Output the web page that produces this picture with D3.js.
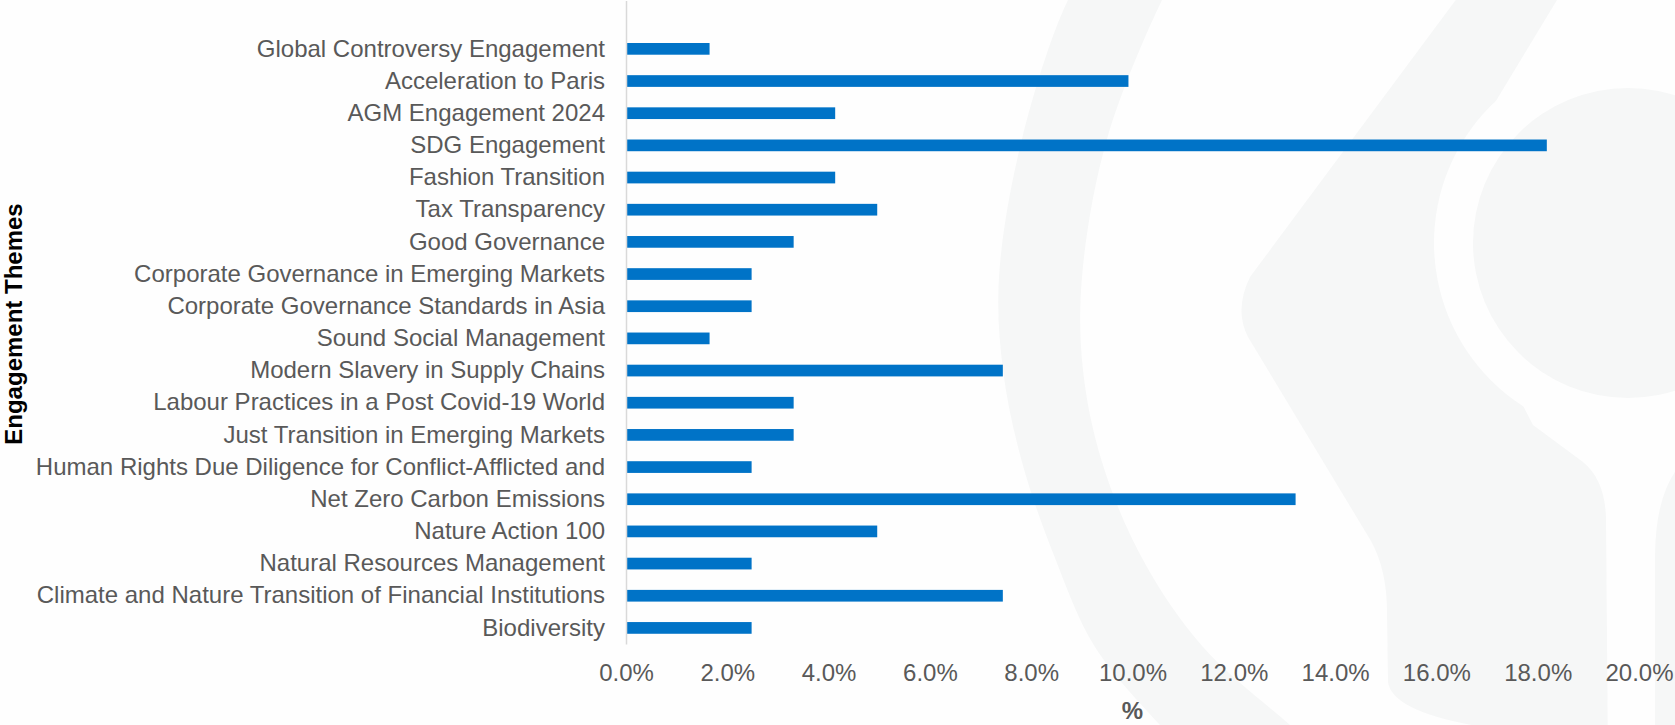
<!DOCTYPE html>
<html>
<head>
<meta charset="utf-8">
<script src="https://cdn.jsdelivr.net/npm/d3@7"></script>
<style>
  html, body { margin: 0; padding: 0; background: #fefefe; }
  svg { display: block; }
</style>
</head>
<body>
<div id="chart"></div>
<script>
// ---- data ----
const categories = [
  "Global Controversy Engagement",
  "Acceleration to Paris",
  "AGM Engagement 2024",
  "SDG Engagement",
  "Fashion Transition",
  "Tax Transparency",
  "Good Governance",
  "Corporate Governance in Emerging Markets",
  "Corporate Governance Standards in Asia",
  "Sound Social Management",
  "Modern Slavery in Supply Chains",
  "Labour Practices in a Post Covid-19 World",
  "Just Transition in Emerging Markets",
  "Human Rights Due Diligence for Conflict-Afflicted and",
  "Net Zero Carbon Emissions",
  "Nature Action 100",
  "Natural Resources Management",
  "Climate and Nature Transition of Financial Institutions",
  "Biodiversity"
];
const values = [1.65, 9.92, 4.13, 18.18, 4.13, 4.96, 3.31, 2.48, 2.48, 1.65, 7.44, 3.31, 3.31, 2.48, 13.22, 4.96, 2.48, 7.44, 2.48];
const xTicks = [0, 2, 4, 6, 8, 10, 12, 14, 16, 18, 20];
const xTitle = "%";
const yTitle = "Engagement Themes";

// ---- layout ----
const W = 1675, H = 725;
const FONT = "'Liberation Sans', Arial, sans-serif";
const svg = d3.select("#chart").append("svg").attr("width", W).attr("height", H);

svg.append("rect").attr("width", W).attr("height", H).attr("fill", "#fefefe");

// ---- faint background watermark ----
const bgFill = "#f6f7f7";
const bg = svg.append("g");
const outerArc = [[1095,-40],[1068,0],[1022,139],[999,277],[1003,370],[1022,462],[1055,558],[1095,647],[1160,725],[1195,760]];
const innerArc = [[1185,-40],[1162,0],[1107,139],[1082,277],[1083,370],[1102,462],[1142,558],[1203,647],[1290,725],[1330,760]];
const smooth = d3.line().curve(d3.curveCatmullRom);
bg.append("path")
  .attr("d", smooth(outerArc) + "L" + smooth(innerArc.slice().reverse()).slice(1) + "Z")
  .attr("fill", bgFill);
bg.append("path")
  .attr("d", "M1478,-30 L1250,277 Q1234,310 1248,337 L1371,541 Q1387,570 1387,612 L1388,682 Q1392,712 1483,727 L1560,760 L1608,760 L1606,518 Q1605,480 1583,462 L1533,425 L1510,380 L1470,200 L1459,162 L1557,0 L1575,-30 Z")
  .attr("fill", bgFill);
bg.append("path")
  .attr("d", "M1655,760 L1655,558 Q1655,495 1680,465 L1700,450 L1700,760 Z")
  .attr("fill", bgFill);
bg.append("circle").attr("cx", 1628).attr("cy", 243).attr("r", 194).attr("fill", "#fefefe");
bg.append("circle").attr("cx", 1628).attr("cy", 243).attr("r", 155).attr("fill", bgFill);

// ---- scales ----
const x = d3.scaleLinear().domain([0, 20]).range([626, 1639]);
const y = d3.scaleBand()
  .domain([""].concat(categories))
  .range([0.6, 644])
  .paddingInner(0.636)
  .paddingOuter(0.318);

// ---- bars ----
svg.append("g").selectAll("rect")
  .data(categories.map((c, i) => ({ c, v: values[i] })))
  .join("rect")
  .attr("x", x(0) + 0.5)
  .attr("y", d => y(d.c))
  .attr("width", d => x(d.v) - x(0) - 0.5)
  .attr("height", y.bandwidth())
  .attr("fill", "#0073c7");

// ---- y axis ----
const yAxis = svg.append("g")
  .attr("transform", `translate(${x(0)},0)`)
  .call(d3.axisLeft(y).tickSize(0).tickSizeOuter(0).tickPadding(21));
yAxis.select(".domain").attr("stroke", "#d9d9d9").attr("stroke-width", 1.5);
yAxis.selectAll("text")
  .attr("font-family", FONT)
  .attr("font-size", 24)
  .attr("fill", "#595959");

// ---- x axis ----
const xAxis = svg.append("g")
  .attr("transform", "translate(0,644)")
  .call(d3.axisBottom(x).tickValues(xTicks).tickSize(0).tickPadding(20)
    .tickFormat(d => d.toFixed(1) + "%"));
xAxis.select(".domain").remove();
xAxis.selectAll("text")
  .attr("font-family", FONT)
  .attr("font-size", 24)
  .attr("fill", "#595959");

// ---- titles ----
svg.append("text")
  .attr("x", x(10))
  .attr("y", 719)
  .attr("text-anchor", "middle")
  .attr("font-family", FONT)
  .attr("font-size", 24)
  .attr("font-weight", "bold")
  .attr("fill", "#595959")
  .text(xTitle);

svg.append("text")
  .attr("transform", "translate(22,324) rotate(-90)")
  .attr("text-anchor", "middle")
  .attr("font-family", FONT)
  .attr("font-size", 24)
  .attr("font-weight", "bold")
  .attr("fill", "#000000")
  .text(yTitle);
</script>
</body>
</html>
